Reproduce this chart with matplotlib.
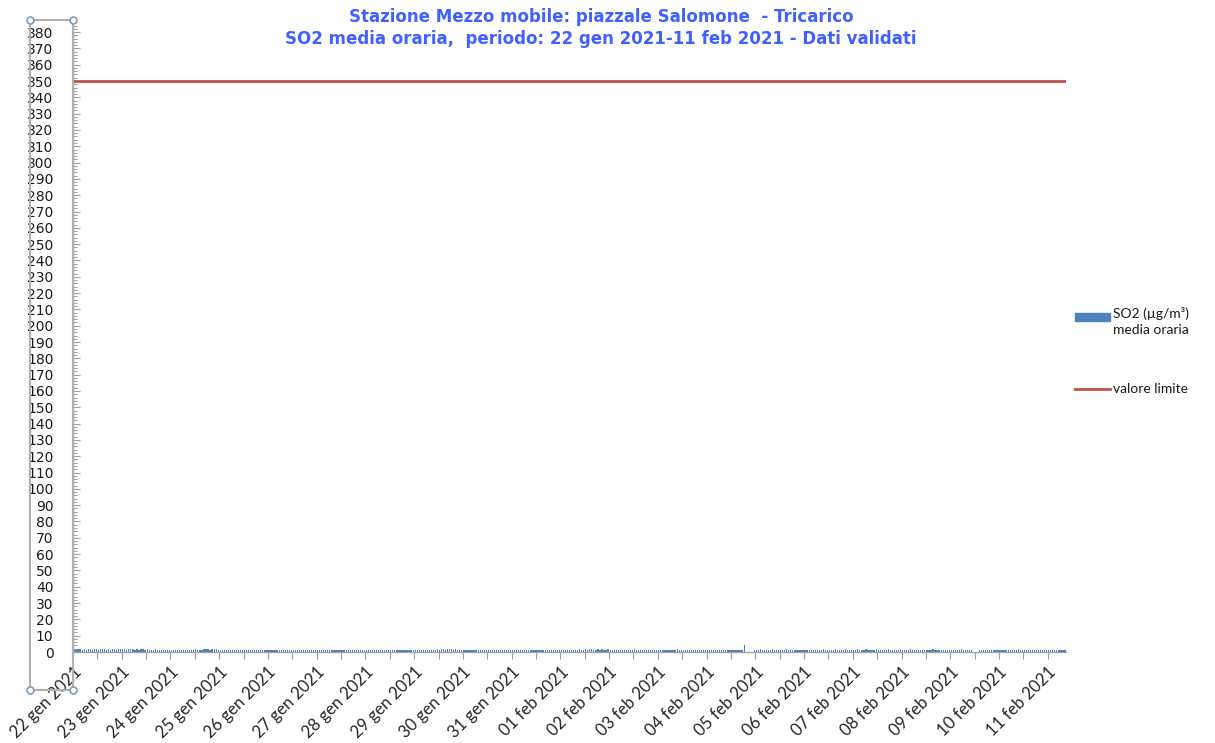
import numpy as np
import pandas as pd
import matplotlib
matplotlib.use("Agg")
import matplotlib.pyplot as plt
import matplotlib.dates as mdates
from matplotlib.ticker import MultipleLocator, FuncFormatter
from matplotlib.patches import Rectangle
from matplotlib.lines import Line2D

# SO2 media oraria (ug/m3), un valore per ora dal 22 gen 2021 00:00, righe = giorni
nan = np.nan
so2 = [
    2,1.5,2,2,1.5,2,1.5,2,2,1.5,2,2,1.5,2,2,2,1.5,2,1.5,2,2,1.5,2,2,   # 22 gen
    2,2,1.5,2,2,2,1.5,2,1.5,2,2,1.5,2,1.5,1.5,1.5,2,1.5,1.5,1.5,1,1.5,1.5,1,   # 23 gen
    1.5,1,1,1.5,1,1.5,1,1,1.5,1,1,1.5,2,1.5,1,1.5,2,2,2,1.5,2,2,2,1.5,   # 24 gen
    1.5,1,1,1,1,1,1,1,1,1,1,1,1.5,1,1,1,1,1,1,1,1,1,1,1,   # 25 gen
    1,1,1,1,1,1,1,1,1,1,1,1,1.5,1,1,1,1,1,1,1,1,1,1,1,   # 26 gen
    1,1,1,1,1,1,1,1,1,1,1,1,1,1,1,1,1,1,1,1,1,1,1,1,   # 27 gen
    1,1,1,1,1,1,1,1,1,1,1,1,1,1,1,1,1,1,1.5,1,1,1,1,1,   # 28 gen
    1,1,1,1,1,1,1,1,1.5,1,1.5,2,1.5,2,2,1.5,2,2,2,1.5,2,1.5,1.5,1,   # 29 gen
    1,1,1,1,1,1,1,1,1,1,1,1,1,1,1,1,1,1,1,1,1,1,1,1,   # 30 gen
    1,1,1,1,1,1,1,1,1,1,1,1,1,1,1,1,1,1,1,1,1,1,1,1,   # 31 gen
    1,1,1,1,1,1,1.5,1,1.5,2,1.5,1.5,2,1.5,2,2,1.5,1.5,2,1.5,2,1.5,1.5,2,   # 01 feb
    1.5,1.5,1,1.5,1,1,1.5,1,1,1.5,1.5,1.5,2,1.5,1.5,1.5,1.5,1.5,1.5,1.5,1.5,1.5,1.5,1.5,   # 02 feb
    1.5,1.5,1.5,1.5,1.5,1.5,1.5,1.5,1.5,2,1.5,1.5,1.5,1.5,1.5,1.5,1.5,1.5,1.5,1.5,1.5,1.5,1.5,1.5,   # 03 feb
    1.5,1.5,1.5,1.5,1.5,1.5,1.5,1.5,1.5,1.5,1.5,1.5,1.5,1.5,1.5,1.5,1.5,1.5,4,nan,nan,nan,nan,1.5,   # 04 feb
    1.5,1.5,2,1.5,1.5,1.5,1.5,1.5,2,1.5,1.5,1.5,1.5,1.5,1.5,2,1.5,1.5,1.5,1.5,1.5,1.5,1.5,1.5,   # 05 feb
    1.5,1.5,1,1,1,1,1,1.5,1.5,2,1.5,1.5,1.5,1.5,1.5,2,1.5,1.5,1.5,1.5,2,1.5,1.5,1.5,   # 06 feb
    1.5,1.5,2,1.5,1.5,1.5,2,1.5,1.5,1.5,1.5,2,1.5,1.5,1.5,1.5,1.5,2,1.5,1.5,1.5,1.5,1.5,2,   # 07 feb
    1.5,1.5,1.5,1.5,2,1.5,1.5,1.5,1.5,1.5,1.5,1.5,1.5,1.5,1.5,2,1.5,1.5,1.5,1.5,1.5,1.5,1.5,1.5,   # 08 feb
    1.5,1.5,1.5,1.5,1.5,2,1.5,1.5,1.5,1.5,1.5,nan,nan,nan,1,1.5,1,1,1,1,1,1,1,1,   # 09 feb
    1,1,1,1,1,1,1.5,1.5,1.5,2,1.5,1.5,1.5,1.5,1.5,1.5,1.5,1.5,1.5,1.5,1.5,1.5,1.5,1.5,   # 10 feb
    1.5,1.5,1.5,1.5,1.5,1.5,1.5,1.5,1.5,                                 # 11 feb
]
valore_limite = 350
inizio = "2021-01-22 00:00"
mesi = {1: "gen", 2: "feb"}

titolo = ("Stazione Mezzo mobile: piazzale Salomone  - Tricarico\n"
          "SO2 media oraria,  periodo: 22 gen 2021-11 feb 2021 - Dati validati")
etichetta_so2 = "SO2 (\u00b5g/m\u00b3)\nmedia oraria"
etichetta_lim = "valore limite"

ore = pd.date_range(inizio, periods=len(so2), freq="h")
x = mdates.date2num(ore.to_pydatetime())
ora = 1 / 24.0

fig = plt.figure(figsize=(12.15, 7.43), dpi=100)
ax = fig.add_axes([73/1215, 1-652/743, (1066-73)/1215, (652-20)/743])

ax.bar(x + ora/2, so2, width=0.6*ora, color="#4F81BD", zorder=2)
ax.plot([x[0], x[-1] + ora], [valore_limite, valore_limite],
        color="#C0504D", lw=2, zorder=3)

ax.set_xlim(x[0], x[-1] + ora)
ax.set_ylim(0, 387.4)

ax.yaxis.set_major_locator(MultipleLocator(10))
ax.yaxis.set_minor_locator(MultipleLocator(2))
ax.tick_params(axis="y", which="major", direction="in", length=5, width=0.8,
               color="#A0A0A0", labelsize=10, pad=14, labelcolor="#1A1A1A")
ax.tick_params(axis="y", which="minor", direction="in", length=3, width=0.8,
               color="#A0A0A0")

ax.xaxis.set_major_locator(mdates.DayLocator())
ax.xaxis.set_minor_locator(mdates.HourLocator(byhour=[12]))
ax.xaxis.set_major_formatter(FuncFormatter(
    lambda v, p: "%02d %s %d" % (mdates.num2date(v).day,
                                 mesi[mdates.num2date(v).month],
                                 mdates.num2date(v).year)))
ax.tick_params(axis="x", which="both", direction="out", length=5, width=0.8,
               color="#A0A0A0")
for t in ax.get_xticklabels():
    t.set_rotation(45)
    t.set_ha("right")
    t.set_va("top")
    t.set_rotation_mode("anchor")
    t.set_fontfamily("Lato")
    t.set_fontsize(12)
    t.set_color("#262626")

for s in ["top", "right"]:
    ax.spines[s].set_visible(False)
for s in ["left", "bottom"]:
    ax.spines[s].set_color("#A0A0A0")
    ax.spines[s].set_linewidth(0.9)

# riquadro di selezione dell'asse verticale
x0, x1 = 30/1215, 73/1215
y0, y1 = 1-690/743, 1-20/743
fig.add_artist(Rectangle((x0, y0), x1-x0, y1-y0, transform=fig.transFigure,
                         fill=False, ec="#B0B0B0", lw=1.5, zorder=5))
for cx, cy in [(x0, y0), (x1, y0), (x0, y1), (x1, y1)]:
    fig.add_artist(Line2D([cx], [cy], transform=fig.transFigure, marker="o",
                          ms=5, mfc="white", mec="#7F9DB9", mew=1.2, zorder=6))

fig.text(601/1215, 1-28/743, titolo, ha="center", va="center",
         fontsize=12, fontweight="bold", color="#4060FF", linespacing=1.3)

# legenda a destra
lx0, lx1, ltx = 1075/1215, 1110/1215, 1113/1215
fig.add_artist(Rectangle((lx0, 1-321/743), lx1-lx0, 8/743,
                         transform=fig.transFigure, color="#4F81BD"))
fig.text(ltx, 1-307/743, etichetta_so2, ha="left", va="top", family="Lato",
         fontsize=10, linespacing=1.4, color="#1A1A1A")
fig.add_artist(Line2D([lx0, lx1], [1-389/743, 1-389/743],
                      transform=fig.transFigure, color="#C0504D", lw=2))
fig.text(ltx, 1-389/743, etichetta_lim, ha="left", va="center", family="Lato",
         fontsize=10, color="#1A1A1A")

fig.savefig("out.png", dpi=100)
